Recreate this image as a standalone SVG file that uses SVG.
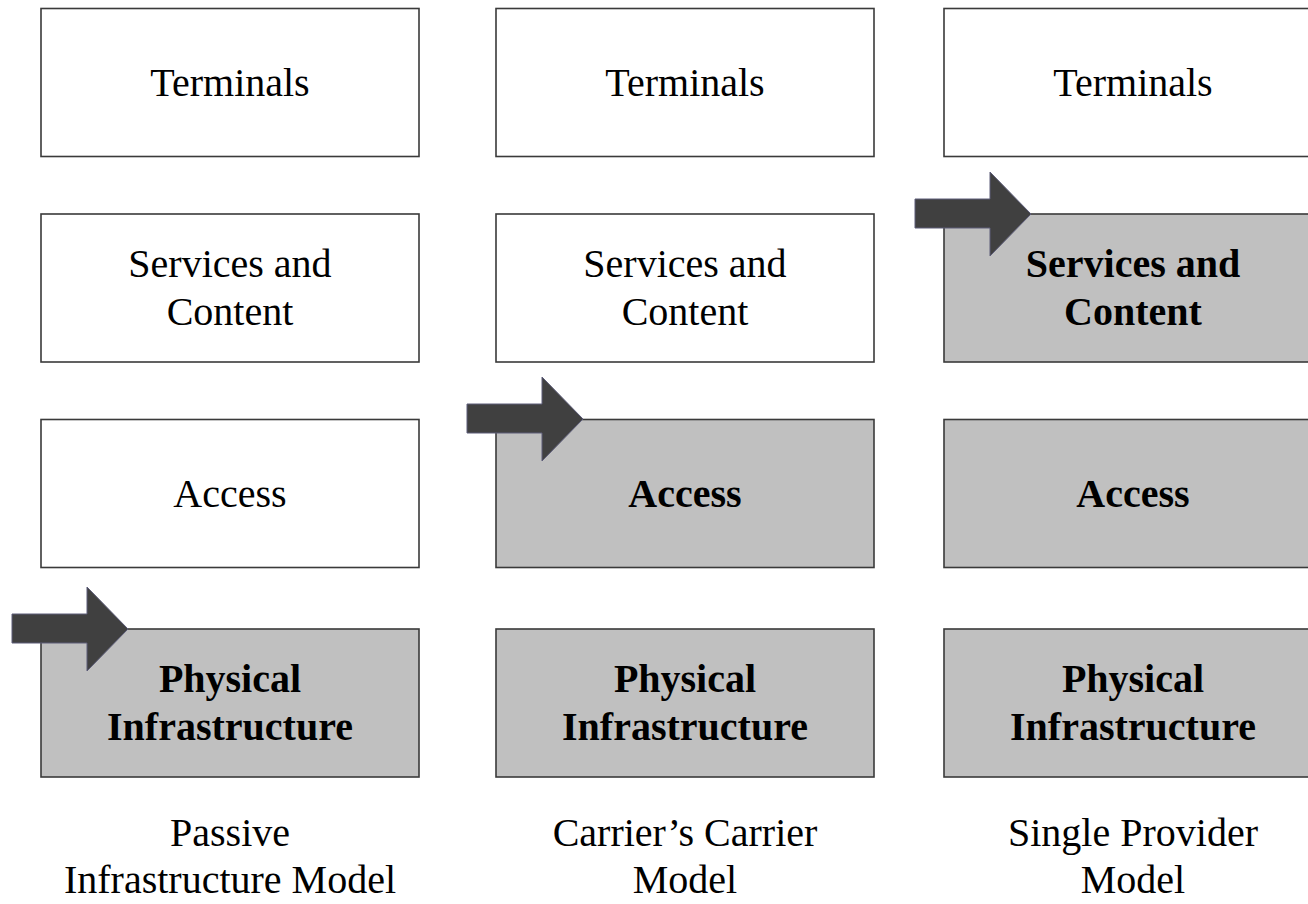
<svg xmlns="http://www.w3.org/2000/svg" xmlns:xlink="http://www.w3.org/1999/xlink" width="1308" height="904" viewBox="0 0 1308 904">
<style>
.box{fill:#ffffff;stroke:#3a3a3a;stroke-width:1.6}
.sel{fill:#c0c0c0;stroke:#3a3a3a;stroke-width:1.6}
.t{font-family:"Liberation Serif","Times New Roman",serif;font-size:40px;fill:#000;text-anchor:middle}
.b{font-weight:bold}
.arr{fill:#404040;stroke:#5c5c78;stroke-width:1}
</style>
<defs>
<path id="arrow" class="arr" d="M-116,-15 L-41,-15 L-41,-42 L0,0 L-41,42 L-41,14 L-116,14 Z"/>
</defs>
<rect width="1308" height="904" fill="#ffffff"/>
<g id="col1">
<g id="c1-terminals"><rect class="box" x="41" y="8.5" width="378" height="148"/><text class="t" x="230" y="96">Terminals</text></g>
<g id="c1-services"><rect class="box" x="41" y="214" width="378" height="148"/><text class="t" x="230" y="277">Services and</text><text class="t" x="230" y="325">Content</text></g>
<g id="c1-access"><rect class="box" x="41" y="419.5" width="378" height="148"/><text class="t" x="230" y="507">Access</text></g>
<g id="c1-physical"><rect class="sel" x="41" y="629" width="378" height="148"/><text class="t b" x="230" y="692">Physical</text><text class="t b" x="230" y="740">Infrastructure</text></g>
<g id="c1-label"><text class="t" x="230" y="846">Passive</text><text class="t" x="230" y="893">Infrastructure Model</text></g>
</g>
<g id="col2">
<g id="c2-terminals"><rect class="box" x="496" y="8.5" width="378" height="148"/><text class="t" x="685" y="96">Terminals</text></g>
<g id="c2-services"><rect class="box" x="496" y="214" width="378" height="148"/><text class="t" x="685" y="277">Services and</text><text class="t" x="685" y="325">Content</text></g>
<g id="c2-access"><rect class="sel" x="496" y="419.5" width="378" height="148"/><text class="t b" x="685" y="507">Access</text></g>
<g id="c2-physical"><rect class="sel" x="496" y="629" width="378" height="148"/><text class="t b" x="685" y="692">Physical</text><text class="t b" x="685" y="740">Infrastructure</text></g>
<g id="c2-label"><text class="t" x="685" y="846">Carrier’s Carrier</text><text class="t" x="685" y="893">Model</text></g>
</g>
<g id="col3">
<g id="c3-terminals"><rect class="box" x="944" y="8.5" width="378" height="148"/><text class="t" x="1133" y="96">Terminals</text></g>
<g id="c3-services"><rect class="sel" x="944" y="214" width="378" height="148"/><text class="t b" x="1133" y="277">Services and</text><text class="t b" x="1133" y="325">Content</text></g>
<g id="c3-access"><rect class="sel" x="944" y="419.5" width="378" height="148"/><text class="t b" x="1133" y="507">Access</text></g>
<g id="c3-physical"><rect class="sel" x="944" y="629" width="378" height="148"/><text class="t b" x="1133" y="692">Physical</text><text class="t b" x="1133" y="740">Infrastructure</text></g>
<g id="c3-label"><text class="t" x="1133" y="846">Single Provider</text><text class="t" x="1133" y="893">Model</text></g>
</g>
<g id="connectors">
<use xlink:href="#arrow" href="#arrow" transform="translate(128,629)"/>
<use xlink:href="#arrow" href="#arrow" transform="translate(583,419)"/>
<use xlink:href="#arrow" href="#arrow" transform="translate(1031,214)"/>
</g>
</svg>
